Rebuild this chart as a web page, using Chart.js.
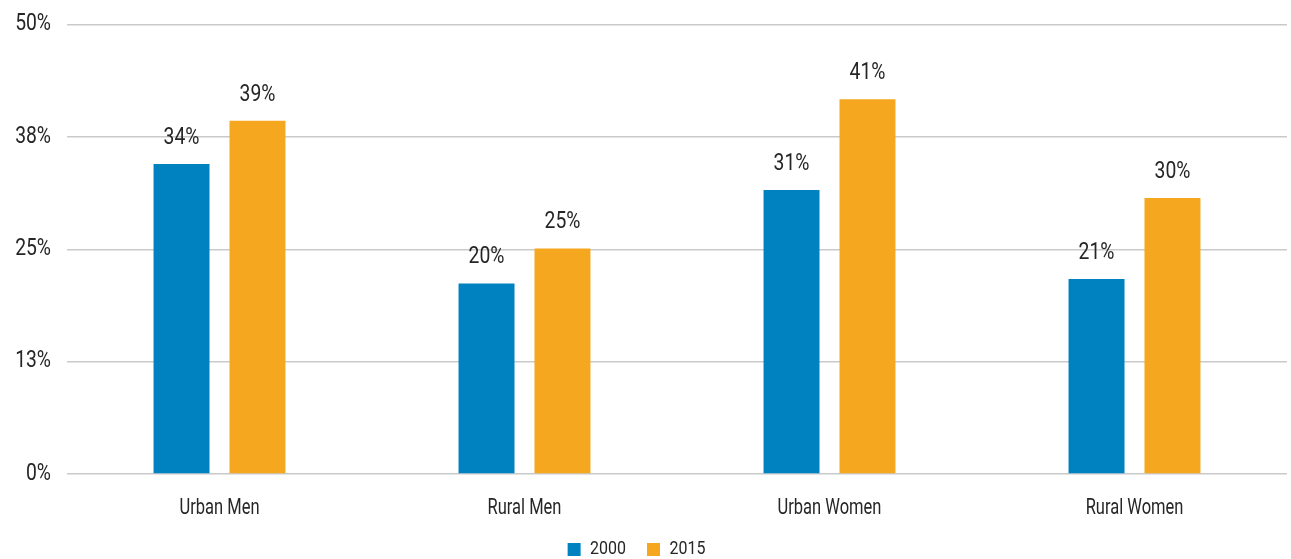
<!DOCTYPE html>
<html>
<head>
<meta charset="utf-8">
<script src="https://cdn.jsdelivr.net/npm/chart.js@4.4.1/dist/chart.umd.min.js"></script>
<style>
  html, body { margin: 0; padding: 0; background: #fff; }
  #wrap { width: 1291px; height: 559px; }
</style>
</head>
<body>
<div id="wrap"><canvas id="bar-chart"></canvas></div>
<script>
const categories = ["Urban Men", "Rural Men", "Urban Women", "Rural Women"];
const seriesNames = ["2000", "2015"];
const values2000 = [34.5, 21.2, 31.6, 21.7];
const values2015 = [39.3, 25.1, 41.7, 30.7];
const labels2000 = ["34%", "20%", "31%", "21%"];
const labels2015 = ["39%", "25%", "41%", "30%"];
const yTicks = [0, 12.5, 25, 37.5, 50];

const fontFamily = "Roboto, 'DejaVu Sans Condensed', sans-serif";
const textColor = "#262626";
const gridColor = "#cacaca";

const ctx = document.getElementById("bar-chart");

// no condensed font installed, so squeeze the text horizontally instead
// (words get squeezed harder than numbers, like the original face)
const squeezeFor = (text) => (/[A-Za-z]/.test(String(text)) ? 0.75 : 0.84);
const c2d = ctx.getContext("2d");
c2d.fillText = function (text, x, y) {
  this.save();
  this.translate(x, y);
  this.scale(squeezeFor(text), 1);
  CanvasRenderingContext2D.prototype.fillText.call(this, text, 0, 0);
  this.restore();
};
c2d.measureText = function (text) {
  const m = CanvasRenderingContext2D.prototype.measureText.call(this, text);
  return {
    width: m.width * squeezeFor(text),
    actualBoundingBoxAscent: m.actualBoundingBoxAscent,
    actualBoundingBoxDescent: m.actualBoundingBoxDescent,
  };
};

// value labels above each bar
const barLabels = {
  id: "barLabels",
  afterDatasetsDraw(chart) {
    const g = chart.ctx;
    const allLabels = [labels2000, labels2015];
    g.save();
    g.font = "23px " + fontFamily;
    g.fillStyle = textColor;
    g.textAlign = "center";
    g.textBaseline = "middle";
    chart.data.datasets.forEach((ds, i) => {
      chart.getDatasetMeta(i).data.forEach((bar, j) => {
        g.fillText(allLabels[i][j], bar.x, bar.y - 26);
      });
    });
    g.restore();
  },
};

// legend sits a little left of centre in the original
const legendNudge = {
  id: "legendNudge",
  afterLayout(chart) {
    const lg = chart.legend;
    if (!lg) return;
    lg.left -= 7;
    lg.right -= 7;
  },
};

new Chart(ctx, {
  type: "bar",
  data: {
    labels: categories,
    datasets: [
      {
        label: seriesNames[0],
        data: values2000,
        backgroundColor: "#0082c1",
        categoryPercentage: 0.498,
        barPercentage: 0.737,
      },
      {
        label: seriesNames[1],
        data: values2015,
        backgroundColor: "#f5a81f",
        categoryPercentage: 0.498,
        barPercentage: 0.737,
      },
    ],
  },
  options: {
    responsive: true,
    maintainAspectRatio: false,
    animation: false,
    layout: {
      padding: { top: 10, right: 4, bottom: -10, left: 0 },
    },
    scales: {
      x: {
        grid: { display: false, drawTicks: false },
        border: { display: false },
        ticks: {
          color: textColor,
          font: { family: fontFamily, size: 22 },
          padding: 21,
          maxRotation: 0,
        },
        afterFit(scale) {
          scale.height = 45;
        },
      },
      y: {
        min: 0,
        max: 50,
        afterBuildTicks(scale) {
          scale.ticks = yTicks.map((v) => ({ value: v }));
        },
        grid: { color: gridColor, lineWidth: 1.5, drawTicks: false },
        border: { display: false },
        ticks: {
          color: textColor,
          // small lineHeight keeps the top label from pushing the plot down
          font: { family: fontFamily, size: 23, lineHeight: 0.75 },
          padding: 16,
          callback: (v) => Math.round(v) + "%",
        },
        afterFit(scale) {
          scale.width = 67;
        },
      },
    },
    plugins: {
      legend: {
        position: "bottom",
        labels: {
          color: textColor,
          font: { family: fontFamily, size: 19 },
          boxWidth: 13,
          boxHeight: 13,
          padding: 21,
        },
      },
      tooltip: { enabled: false },
    },
  },
  plugins: [barLabels, legendNudge],
});
</script>
</body>
</html>
